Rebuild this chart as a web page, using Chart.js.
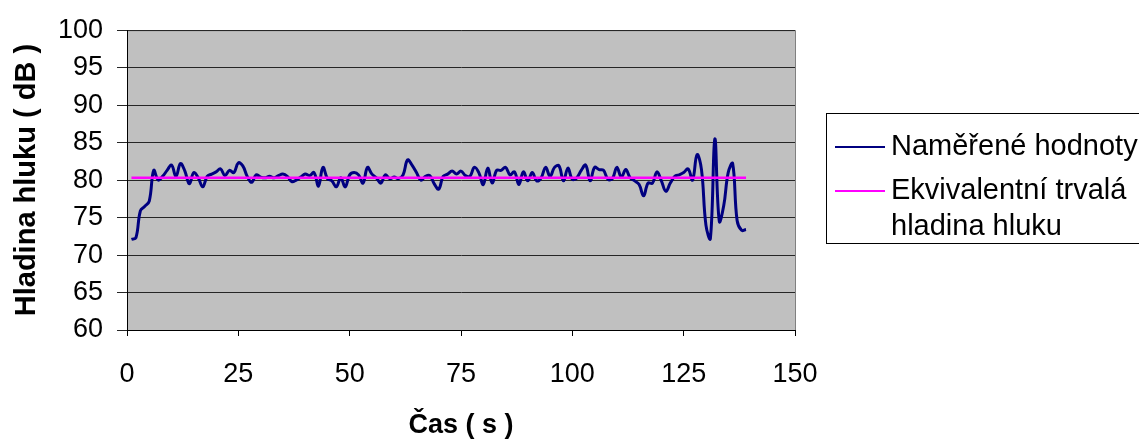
<!DOCTYPE html>
<html>
<head>
<meta charset="utf-8">
<title>Hladina hluku</title>
<script src="https://cdn.jsdelivr.net/npm/chart.js@4"></script>
<style>
    html, body { margin: 0; padding: 0; background: #ffffff; }
    #chart { display: block; }
</style>
</head>
<body>
<canvas id="chart" width="1139" height="444"></canvas>
<script>
// measured sound level, one reading per second starting at t = 1 s
const firstSecond = 1;
const levels = [
    72.1, 72.3, 75.9, 76.5, 77.2, 81.3, 80.0, 80.5, 81.3, 82.0,
    80.5, 82.2, 81.2, 79.5, 81.0, 80.3, 79.1, 80.5, 80.8, 81.1,
    81.5, 80.6, 81.3, 81.0, 82.3, 81.9, 80.5, 79.7, 80.7, 80.4,
    80.3, 80.5, 80.3, 80.6, 80.8, 80.5, 79.8, 80.0, 80.4, 80.8,
    80.6, 81.0, 79.2, 81.7, 80.2, 79.9, 79.1, 80.3, 79.1, 80.7,
    81.0, 80.7, 79.6, 81.7, 80.8, 80.3, 79.6, 80.7, 80.2, 80.4,
    80.2, 80.7, 82.7, 82.0, 81.0, 80.0, 80.5, 80.6, 79.5, 78.8,
    80.5, 80.8, 81.2, 80.8, 81.2, 80.6, 80.5, 81.7, 81.0, 79.4,
    81.6, 79.6, 81.3, 81.3, 81.7, 80.7, 81.1, 79.4, 81.1, 79.9,
    81.0, 79.9, 80.3, 81.7, 80.5, 81.7, 81.9, 79.9, 81.6, 80.1,
    80.3, 81.3, 82.0, 79.9, 81.7, 81.4, 81.3, 80.1, 80.2, 81.7,
    80.4, 81.4, 80.3, 79.9, 79.4, 77.9, 79.6, 79.6, 81.1, 79.9,
    78.5, 79.6, 80.5, 80.7, 81.0, 81.5, 80.0, 83.4, 81.4, 74.0,
    72.2, 85.5, 74.5, 76.6, 81.0, 82.2, 74.6, 73.3, 73.4
];

// equivalent continuous level over the whole measurement
const leqLevel = 80.3;
const leqSpan = [1, 139];

const seriesNames = ['Naměřené hodnoty', ['Ekvivalentní trvalá', 'hladina hluku']];
const xTicks = [0, 25, 50, 75, 100, 125, 150];
const yTicks = [60, 65, 70, 75, 80, 85, 90, 95, 100];

const FONT = '"Liberation Sans", Arial, sans-serif';

const measured = levels.map((v, i) => ({ x: firstSecond + i, y: v }));
const leq = leqSpan.map(t => ({ x: t, y: leqLevel }));

// gray plot area with thin frame
const plotBackground = {
    id: 'plotBackground',
    beforeDraw(chart) {
        const { ctx, chartArea: a } = chart;
        ctx.save();
        ctx.fillStyle = '#c0c0c0';
        ctx.fillRect(a.left, a.top, a.right - a.left, a.bottom - a.top);
        ctx.strokeStyle = '#808080';
        ctx.lineWidth = 1;
        ctx.strokeRect(a.left + 0.5, a.top + 0.5, a.right - a.left, a.bottom - a.top);
        ctx.restore();
    }
};

// boxed legend on the right side
const boxLegend = {
    id: 'boxLegend',
    afterDraw(chart) {
        const ctx = chart.ctx;
        const rows = [147, 191];
        ctx.save();
        ctx.strokeStyle = '#000000';
        ctx.lineWidth = 1;
        ctx.strokeRect(826.5, 113.5, 330, 130);
        ctx.font = '29px ' + FONT;
        ctx.textBaseline = 'middle';
        ctx.fillStyle = '#000000';
        chart.data.datasets.forEach((ds, i) => {
            const y = rows[i];
            ctx.strokeStyle = ds.borderColor;
            ctx.lineWidth = 2;
            ctx.beginPath();
            ctx.moveTo(835, y);
            ctx.lineTo(885, y);
            ctx.stroke();
            const lines = Array.isArray(ds.label) ? ds.label : [ds.label];
            lines.forEach((t, j) => ctx.fillText(t, 891, y + j * 36));
        });
        ctx.restore();
    }
};

new Chart(document.getElementById('chart'), {
    type: 'line',
    data: {
        datasets: [
            {
                label: seriesNames[0],
                data: measured,
                borderColor: '#000080',
                borderWidth: 3,
                pointRadius: 0,
                tension: 0.4,
                fill: false,
                order: 1
            },
            {
                // drawn on top of the measured curve
                label: seriesNames[1],
                data: leq,
                borderColor: '#ff00ff',
                borderWidth: 2.5,
                pointRadius: 0,
                fill: false,
                order: 0
            }
        ]
    },
    options: {
        responsive: false,
        animation: false,
        layout: { padding: { left: 0, top: 28, right: 344, bottom: 0 } },
        plugins: {
            legend: { display: false },
            tooltip: { enabled: false }
        },
        scales: {
            x: {
                type: 'linear',
                min: 0,
                max: 150,
                afterBuildTicks: s => { s.ticks = xTicks.map(v => ({ value: v })); },
                afterFit: s => { s.height = 114; },
                grid: { display: true, drawOnChartArea: false, drawTicks: true, tickLength: 6, color: '#000000' },
                border: { color: '#000000', width: 1 },
                ticks: { color: '#000000', font: { family: FONT, size: 27 }, padding: 22, maxRotation: 0 },
                title: {
                    display: true,
                    text: 'Čas ( s )',
                    color: '#000000',
                    font: { family: FONT, size: 27, weight: 'bold' },
                    padding: { top: 0, bottom: 2 }
                }
            },
            y: {
                min: 60,
                max: 100,
                afterBuildTicks: s => { s.ticks = yTicks.map(v => ({ value: v })); },
                afterFit: s => { s.width = 127; },
                grid: { color: '#262626', lineWidth: 1, drawTicks: true, tickLength: 10 },
                border: { color: '#000000', width: 1 },
                ticks: { color: '#000000', font: { family: FONT, size: 27 }, padding: 14 },
                title: {
                    display: true,
                    text: 'Hladina hluku ( dB )',
                    color: '#000000',
                    font: { family: FONT, size: 29, weight: 'bold' },
                    padding: { top: 10, bottom: 0 }
                }
            }
        }
    },
    plugins: [plotBackground, boxLegend]
});
</script>
</body>
</html>
